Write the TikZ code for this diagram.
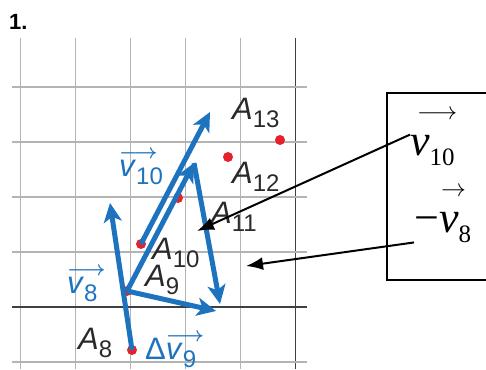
\documentclass[tikz,border=0pt]{standalone}
\usepackage{fontspec}
\setmainfont{Liberation Sans}
\newfontfamily\timesfont{Liberation Serif}
\usetikzlibrary{positioning, arrows.meta}
\definecolor{vblue}{HTML}{1E73BE}
\definecolor{ptred}{HTML}{E8202A}
\definecolor{gridgray}{HTML}{B4B4B4}
\definecolor{axisgray}{HTML}{404040}
\definecolor{lbl}{HTML}{2A2A2A}
\newcommand\bigsz{\fontsize{31}{33}\selectfont}
\newcommand\subsz{\fontsize{24}{26}\selectfont}
\newcommand\ptlbl[1]{\textit{A}\raisebox{-8pt}{\subsz #1}}
\newcommand\vlbl[1]{\rlap{\smash{\raisebox{18pt}{\fontsize{21}{21}\selectfont\boldmath$\longrightarrow$}}}\textit{v}\raisebox{-8pt}{\subsz #1}}

\begin{document}
\begin{tikzpicture}[x=1pt, y=-1pt,
  dot/.style={circle, fill=ptred, inner sep=0pt, minimum size=10pt},
  vec/.style={vblue, line width=5pt, -{Stealth[length=19pt, width=18pt, inset=5pt]}},
  ptname/.style={text=lbl, font=\bigsz, inner sep=0pt, anchor=base west},
  vname/.style={text=vblue, font=\bigsz, inner sep=0pt, anchor=base west},
  pointer/.style={black, line width=2pt, -{Latex[length=17pt, width=13pt]}},
  keybox/.style={draw=black, line width=1.5pt, minimum width=102pt, minimum height=187pt},
  keytext/.style={font=\timesfont\fontsize{44}{48}\selectfont, inner sep=0pt, anchor=base west}]
  \useasboundingbox (0,0) rectangle (486,369);
  % grid
  \foreach \x in {20.5,75.5,130.5,185.5,240.5}
    \draw[gridgray, line width=1.5pt] (\x,38) -- (\x,369);
  \draw[axisgray, line width=1.5pt] (295.5,38) -- (295.5,369);
  \foreach \y in {87,142,197,252,362}
    \draw[gridgray, line width=1.5pt] (12,\y) -- (307,\y);
  \draw[axisgray, line width=1.5pt] (12,307) -- (307,307);
  % points
  \node[dot] (A8)  at (132,350) {};
  \node[dot] (A9)  at (127,291) {};
  \node[dot] (A10) at (141,244) {};
  \node[dot] (A11) at (178,198) {};
  \node[dot] (A12) at (228,157) {};
  \node[dot] (A13) at (280,140) {};
  \coordinate (v8tip)  at (110,203);
  \coordinate (v10tip) at (210,112);
  \coordinate (apex)   at (194,163);
  \coordinate (dvtip)  at (216,311);
  \coordinate (negtip) at (220,304);
  % vectors
  \draw[vec] (A8.center) -- (v8tip);
  \draw[vec] (A10.center) -- (v10tip);
  \draw[vec] (A9.center) -- (apex);
  \draw[vec] (apex) -- (negtip);
  \draw[vec] (A9.center) -- (dvtip);
  % labels
  \node[ptname] (lA8)  at (78,349)  {\ptlbl{8}};
  \node[ptname] (lA9)  at (145,286) {\ptlbl{9}};
  \node[ptname] (lA10) at (152,259) {\ptlbl{10}};
  \node[ptname] (lA11) at (211,223) {\ptlbl{11}};
  \node[ptname] (lA12) at (232,183) {\ptlbl{12}};
  \node[ptname] (lA13) at (232,119) {\ptlbl{13}};
  \node[vname] (lv10) at (119,176) {\vlbl{10}};
  \node[vname] (lv8)  at (67,293)  {\vlbl{8}};
  \node[vname] (ldv9) at (145,359) {Δ\vlbl{9}};
  \node[font=\bfseries\fontsize{22}{24}\selectfont, inner sep=0pt, anchor=base west] (num) at (9,30) {1.};
  % key box
  \node[keybox] (key) at (438,186.5) {};
  \node[keytext] (kv10) at (410,155) {\rlap{\smash{\hspace{7pt}\raisebox{36pt}{\fontsize{25}{25}\selectfont$\longrightarrow$}}}\textit{v}\raisebox{-10pt}{\fontsize{25}{27}\selectfont 10}};
  \node[keytext] (kv8)  at (414,232) {−\rlap{\smash{\hspace{2pt}\raisebox{36pt}{\fontsize{30}{30}\selectfont$\rightarrow$}}}\textit{v}\raisebox{-10pt}{\fontsize{25}{27}\selectfont 8}};
  \coordinate (aim10) at (197,231);
  \coordinate (aim8)  at (246,266);
  \draw[pointer] (kv10.north west) -- (aim10);
  \draw[pointer] (kv8.south west) -- (aim8);
\end{tikzpicture}
\end{document}
